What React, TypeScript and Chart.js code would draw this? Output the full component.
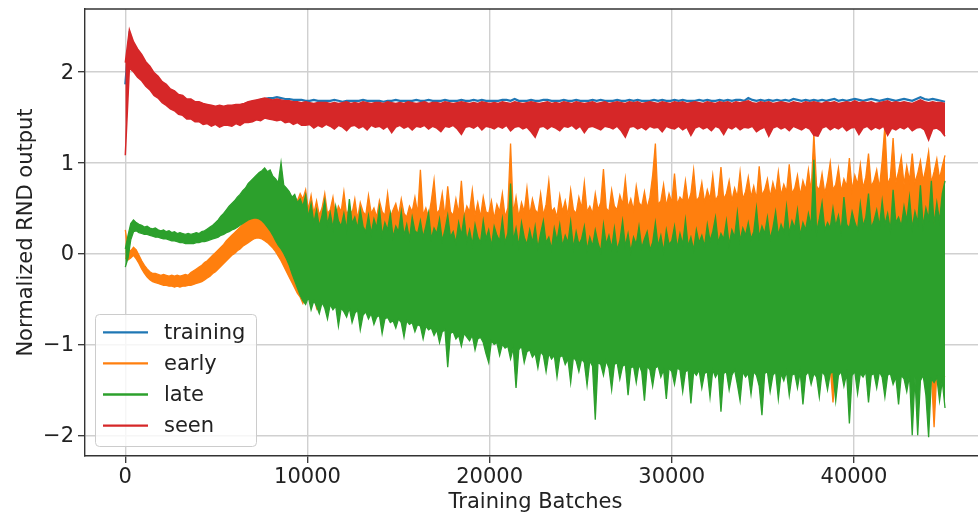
import { useEffect, useRef } from 'react';
import { Chart, registerables } from 'chart.js';

Chart.register(...registerables);

// "training" and "seen" are sampled every 225 batches, "early" and "late" every 150 batches (0 .. 45000)
const upperStep = 225;
const lowerStep = 150;

const seriesNames = ['training', 'early', 'late', 'seen'];
const seriesColors = ['#1f77b4', '#ff7f0e', '#2ca02c', '#d62728'];

const xTicks = [0, 10000, 20000, 30000, 40000];
const yTicks = [-2, -1, 0, 1, 2];

// training: top edge of its band (the rest lies under "seen")
const trainingTop = [
  1.86, 2.40, 2.29, 2.21, 2.14, 2.07, 2.01, 1.95, 1.90, 1.85,
  1.81, 1.78, 1.75, 1.72, 1.70, 1.68, 1.66, 1.65, 1.64, 1.63,
  1.62, 1.61, 1.60, 1.61, 1.60, 1.61, 1.61, 1.62, 1.63, 1.64,
  1.66, 1.67, 1.68, 1.69, 1.70, 1.71, 1.71, 1.72, 1.71, 1.70,
  1.70, 1.69, 1.69, 1.69, 1.68, 1.68, 1.69, 1.68, 1.68, 1.68,
  1.68, 1.69, 1.68, 1.67, 1.68, 1.68, 1.68, 1.68, 1.69, 1.68,
  1.68, 1.68, 1.68, 1.67, 1.68, 1.68, 1.69, 1.68, 1.68, 1.68,
  1.68, 1.69, 1.68, 1.68, 1.69, 1.68, 1.68, 1.68, 1.69, 1.68,
  1.68, 1.68, 1.69, 1.68, 1.68, 1.69, 1.68, 1.69, 1.68, 1.68,
  1.68, 1.68, 1.69, 1.69, 1.68, 1.70, 1.68, 1.68, 1.68, 1.69,
  1.68, 1.68, 1.69, 1.69, 1.68, 1.68, 1.68, 1.69, 1.68, 1.68,
  1.69, 1.68, 1.68, 1.68, 1.69, 1.68, 1.69, 1.68, 1.68, 1.68,
  1.69, 1.68, 1.68, 1.69, 1.68, 1.69, 1.68, 1.68, 1.68, 1.69,
  1.68, 1.69, 1.68, 1.68, 1.69, 1.68, 1.69, 1.68, 1.68, 1.68,
  1.69, 1.68, 1.69, 1.68, 1.68, 1.69, 1.68, 1.69, 1.68, 1.69,
  1.69, 1.68, 1.71, 1.69, 1.68, 1.69, 1.68, 1.69, 1.68, 1.69,
  1.68, 1.69, 1.68, 1.70, 1.69, 1.68, 1.69, 1.68, 1.69, 1.68,
  1.69, 1.68, 1.69, 1.70, 1.68, 1.69, 1.68, 1.69, 1.70, 1.69,
  1.68, 1.69, 1.70, 1.69, 1.68, 1.69, 1.70, 1.69, 1.68, 1.69,
  1.70, 1.69, 1.68, 1.70, 1.72, 1.70, 1.69, 1.70, 1.69, 1.68,
  1.67,
];

const seenHigh = [
  2.10, 2.46, 2.33, 2.25, 2.19, 2.11, 2.06, 1.99, 1.95, 1.89,
  1.86, 1.81, 1.79, 1.75, 1.74, 1.70, 1.70, 1.67, 1.67, 1.65,
  1.64, 1.63, 1.62, 1.63, 1.62, 1.63, 1.63, 1.64, 1.64, 1.65,
  1.67, 1.68, 1.69, 1.70, 1.71, 1.70, 1.69, 1.70, 1.69, 1.68,
  1.68, 1.67, 1.67, 1.66, 1.67, 1.66, 1.65, 1.66, 1.66, 1.66,
  1.65, 1.66, 1.65, 1.66, 1.67, 1.65, 1.66, 1.65, 1.67, 1.66,
  1.65, 1.66, 1.66, 1.65, 1.67, 1.66, 1.65, 1.66, 1.65, 1.67,
  1.66, 1.65, 1.66, 1.67, 1.65, 1.66, 1.66, 1.65, 1.67, 1.66,
  1.65, 1.66, 1.67, 1.66, 1.65, 1.66, 1.65, 1.67, 1.66, 1.65,
  1.66, 1.65, 1.67, 1.66, 1.65, 1.67, 1.66, 1.65, 1.66, 1.67,
  1.66, 1.65, 1.66, 1.67, 1.65, 1.66, 1.65, 1.67, 1.66, 1.65,
  1.67, 1.66, 1.65, 1.66, 1.67, 1.65, 1.66, 1.67, 1.65, 1.66,
  1.67, 1.66, 1.65, 1.67, 1.66, 1.67, 1.65, 1.66, 1.67, 1.66,
  1.65, 1.67, 1.66, 1.65, 1.67, 1.66, 1.67, 1.65, 1.66, 1.67,
  1.66, 1.65, 1.67, 1.66, 1.65, 1.67, 1.66, 1.67, 1.65, 1.67,
  1.66, 1.67, 1.68, 1.66, 1.65, 1.67, 1.66, 1.67, 1.65, 1.66,
  1.67, 1.66, 1.65, 1.67, 1.66, 1.65, 1.67, 1.66, 1.67, 1.66,
  1.65, 1.67, 1.66, 1.67, 1.65, 1.66, 1.67, 1.66, 1.68, 1.66,
  1.67, 1.66, 1.67, 1.65, 1.66, 1.67, 1.68, 1.66, 1.67, 1.66,
  1.67, 1.66, 1.65, 1.67, 1.69, 1.67, 1.66, 1.67, 1.66, 1.66,
  1.65,
];

const seenLow = [
  1.08, 2.04, 2.00, 1.94, 1.90, 1.84, 1.80, 1.74, 1.71, 1.66,
  1.63, 1.59, 1.57, 1.53, 1.52, 1.48, 1.48, 1.45, 1.45, 1.42,
  1.43, 1.40, 1.42, 1.39, 1.41, 1.41, 1.40, 1.43, 1.41, 1.44,
  1.44, 1.45, 1.47, 1.46, 1.49, 1.48, 1.47, 1.46, 1.47, 1.44,
  1.45, 1.42, 1.44, 1.41, 1.41, 1.42, 1.38, 1.41, 1.39, 1.42,
  1.40, 1.37, 1.41, 1.39, 1.35, 1.40, 1.41, 1.38, 1.40, 1.36,
  1.41, 1.39, 1.40, 1.37, 1.40, 1.33, 1.39, 1.41, 1.38, 1.40,
  1.36, 1.40, 1.39, 1.41, 1.37, 1.40, 1.38, 1.34, 1.40, 1.39,
  1.41, 1.37, 1.31, 1.39, 1.40, 1.38, 1.41, 1.36, 1.40, 1.39,
  1.37, 1.40, 1.38, 1.41, 1.35, 1.39, 1.40, 1.37, 1.39, 1.34,
  1.28, 1.39, 1.40, 1.37, 1.40, 1.38, 1.35, 1.40, 1.39, 1.41,
  1.37, 1.40, 1.33, 1.39, 1.40, 1.38, 1.36, 1.40, 1.39, 1.37,
  1.40, 1.35, 1.28, 1.39, 1.40, 1.37, 1.39, 1.36, 1.40, 1.38,
  1.39, 1.34, 1.40, 1.38, 1.37, 1.40, 1.36, 1.39, 1.30, 1.38,
  1.40, 1.37, 1.39, 1.35, 1.40, 1.38, 1.31, 1.39, 1.37, 1.40,
  1.36, 1.39, 1.38, 1.40, 1.34, 1.37, 1.39, 1.29, 1.38, 1.40,
  1.37, 1.39, 1.35, 1.40, 1.38, 1.36, 1.39, 1.37, 1.30, 1.29,
  1.38, 1.40, 1.36, 1.39, 1.37, 1.40, 1.35, 1.38, 1.39, 1.31,
  1.38, 1.40, 1.36, 1.39, 1.37, 1.40, 1.30, 1.38, 1.36, 1.39,
  1.37, 1.40, 1.35, 1.38, 1.39, 1.36, 1.25, 1.37, 1.38, 1.35,
  1.29,
];

const earlyHigh = [
  0.26, 0.05, 0.03, 0.07, 0.04, -0.02, -0.08, -0.13, -0.17, -0.20,
  -0.22, -0.22, -0.23, -0.24, -0.23, -0.24, -0.25, -0.24, -0.25, -0.24,
  -0.25, -0.24, -0.23, -0.24, -0.21, -0.19, -0.17, -0.15, -0.13, -0.10,
  -0.08, -0.05, -0.02, 0.01, 0.04, 0.07, 0.10, 0.14, 0.17, 0.20,
  0.23, 0.26, 0.29, 0.32, 0.35, 0.37, 0.40, 0.42, 0.44, 0.45,
  0.46, 0.44, 0.43, 0.41, 0.40, 0.38, 0.40, 0.39, 0.42, 0.48,
  0.55, 0.50, 0.62, 0.58, 0.66, 0.60, 0.70, 0.48, 0.64, 0.44,
  0.58, 0.42, 0.50, 0.66, 0.44, 0.48, 0.62, 0.40, 0.52, 0.46,
  0.68, 0.42, 0.50, 0.44, 0.60, 0.38, 0.56, 0.46, 0.42, 0.64,
  0.44, 0.50, 0.40, 0.58, 0.46, 0.42, 0.66, 0.40, 0.48, 0.55,
  0.42, 0.60, 0.44, 0.40, 0.52, 0.46, 0.62, 0.44, 0.92, 0.42,
  0.50, 0.40, 0.58, 0.81, 0.44, 0.48, 0.66, 0.40, 0.74, 0.46,
  0.42, 0.60, 0.44, 0.80, 0.40, 0.52, 0.46, 0.70, 0.42, 0.56,
  0.40, 0.62, 0.46, 0.44, 0.58, 0.38, 0.54, 0.46, 0.66, 0.40,
  0.50, 1.21, 0.44, 0.62, 0.40, 0.56, 0.46, 0.72, 0.42, 0.60,
  0.48, 0.44, 0.66, 0.42, 0.54, 0.80, 0.46, 0.50, 0.40, 0.64,
  0.46, 0.58, 0.42, 0.70, 0.48, 0.44, 0.62, 0.50, 0.78, 0.46,
  0.52, 0.44, 0.66, 0.48, 0.56, 0.93, 0.50, 0.46, 0.70, 0.52,
  0.48, 0.64, 0.54, 0.82, 0.50, 0.60, 0.48, 0.74, 0.56, 0.52,
  0.68, 0.50, 0.62, 0.86, 1.21, 0.54, 0.58, 0.76, 0.52, 0.66,
  0.56, 0.88, 0.54, 0.62, 0.58, 0.80, 0.56, 0.66, 0.92, 0.58,
  0.62, 0.78, 0.56, 0.70, 0.60, 0.86, 0.58, 0.64, 0.95, 0.60,
  0.66, 0.80, 0.58, 0.72, 0.62, 0.90, 0.60, 0.68, 0.84, 0.62,
  0.74, 0.60, 0.96, 0.64, 0.70, 0.82, 0.62, 0.78, 0.66, 0.90,
  0.64, 0.76, 0.68, 0.98, 0.66, 0.72, 0.86, 0.64, 0.80, 0.70,
  0.92, 0.68, 1.32, 0.74, 0.70, 0.88, 0.66, 0.80, 1.00, 0.70,
  0.76, 0.94, 0.68, 0.82, 0.74, 1.05, 0.70, 0.86, 0.76, 0.98,
  0.72, 0.84, 1.10, 0.74, 0.80, 0.92, 0.72, 1.02, 1.41, 0.76,
  0.84, 1.27, 0.78, 0.90, 1.06, 0.76, 0.96, 0.80, 1.10, 0.78,
  0.88, 1.02, 0.80, 0.94, 1.12, 0.78, 0.90, 1.04, 0.82, 0.96,
  1.08,
];

const earlyLow = [
  -0.05, -0.07, -0.05, -0.02, -0.06, -0.11, -0.17, -0.22, -0.26, -0.29,
  -0.31, -0.32, -0.33, -0.34, -0.35, -0.35, -0.36, -0.36, -0.37, -0.36,
  -0.37, -0.36, -0.36, -0.35, -0.35, -0.34, -0.33, -0.32, -0.31, -0.29,
  -0.27, -0.25, -0.22, -0.20, -0.17, -0.14, -0.11, -0.08, -0.05, -0.02,
  0.00, 0.03, 0.05, 0.08, 0.10, 0.12, 0.14, 0.16, 0.17, 0.17,
  0.16, 0.14, 0.12, 0.09, 0.06, 0.02, -0.03, -0.08, -0.14, -0.20,
  -0.26, -0.32, -0.38, -0.44, -0.48, -0.55, -0.46, -0.44, -0.50, -0.46,
  -0.60, -0.48, -0.50, -0.52, -0.50, -0.52, -0.54, -0.52, -0.55, -0.54,
  -0.56, -0.55, -0.56, -0.58, -0.57, -0.56, -0.60, -0.60, -0.58, -0.62,
  -0.60, -0.62, -0.64, -0.62, -0.64, -0.66, -0.64, -0.66, -0.68, -0.66,
  -0.66, -0.68, -0.70, -0.68, -0.70, -0.70, -0.72, -0.72, -0.72, -0.74,
  -0.74, -0.76, -0.76, -0.78, -0.78, -0.80, -0.80, -0.78, -0.82, -0.82,
  -0.80, -0.84, -0.84, -0.86, -0.82, -0.86, -0.88, -0.84, -0.88, -0.88,
  -0.86, -0.90, -0.92, -0.92, -0.90, -0.92, -0.92, -0.94, -0.94, -0.96,
  -0.96, -0.98, -0.98, -1.00, -1.00, -0.96, -1.02, -1.02, -1.00, -1.04,
  -1.04, -1.04, -1.02, -1.06, -1.06, -1.04, -1.08, -1.06, -1.08, -1.08,
  -1.06, -1.10, -1.10, -1.12, -1.08, -1.12, -1.12, -1.10, -1.14, -1.14,
  -1.12, -1.16, -1.16, -1.14, -1.16, -1.18, -1.12, -1.18, -1.18, -1.16,
  -1.14, -1.20, -1.18, -1.16, -1.20, -1.20, -1.18, -1.22, -1.16, -1.22,
  -1.22, -1.18, -1.22, -1.24, -1.20, -1.18, -1.24, -1.22, -1.24, -1.20,
  -1.24, -1.26, -1.20, -1.22, -1.26, -1.24, -1.22, -1.26, -1.24, -1.26,
  -1.22, -1.26, -1.26, -1.24, -1.28, -1.22, -1.28, -1.24, -1.28, -1.26,
  -1.24, -1.28, -1.28, -1.22, -1.28, -1.30, -1.24, -1.28, -1.26, -1.30,
  -1.24, -1.28, -1.30, -1.30, -1.26, -1.24, -1.30, -1.28, -1.24, -1.30,
  -1.26, -1.30, -1.24, -1.30, -1.28, -1.26, -1.30, -1.24, -1.30, -1.28,
  -1.24, -1.30, -1.26, -1.30, -1.32, -1.24, -1.28, -1.32, -1.26, -1.64,
  -1.30, -1.28, -1.24, -1.32, -1.26, -1.32, -1.28, -1.24, -1.32, -1.26,
  -1.30, -1.24, -1.34, -1.28, -1.26, -1.32, -1.24, -1.30, -1.34, -1.28,
  -1.26, -1.32, -1.30, -1.36, -1.28, -1.32, -1.34, -1.28, -1.40, -1.30,
  -1.40, -1.34, -1.28, -1.36, -1.40, -1.32, -1.91, -1.30, -1.36, -1.34,
  -1.36,
];

const lateHigh = [
  0.05, 0.20, 0.33, 0.37, 0.34, 0.32, 0.31, 0.29, 0.30, 0.28,
  0.27, 0.28, 0.26, 0.25, 0.26, 0.24, 0.25, 0.23, 0.24, 0.22,
  0.23, 0.22, 0.21, 0.22, 0.21, 0.22, 0.23, 0.22, 0.24, 0.25,
  0.27, 0.29, 0.31, 0.34, 0.37, 0.41, 0.44, 0.48, 0.52, 0.55,
  0.58, 0.62, 0.65, 0.69, 0.72, 0.77, 0.80, 0.83, 0.86, 0.89,
  0.91, 0.94, 0.90, 0.92, 0.85, 0.82, 0.78, 1.00, 0.75, 0.72,
  0.68, 0.62, 0.65, 0.56, 0.60, 0.52, 0.64, 0.40, 0.55, 0.34,
  0.48, 0.30, 0.42, 0.58, 0.32, 0.45, 0.28, 0.52, 0.36, 0.30,
  0.44, 0.26, 0.60, 0.33, 0.40, 0.28, 0.48, 0.30, 0.24, 0.42,
  0.22, 0.38, 0.28, 0.50, 0.20, 0.34, 0.26, 0.44, 0.18, 0.30,
  0.24, 0.46, 0.20, 0.32, 0.16, 0.40, 0.25, 0.22, 0.36, 0.18,
  0.30, 0.45, 0.16, 0.28, 0.22, 0.38, 0.14, 0.26, 0.42, 0.18,
  0.24, 0.12, 0.34, 0.20, 0.40, 0.14, 0.26, 0.10, 0.32, 0.18,
  0.12, 0.36, 0.16, 0.26, 0.08, 0.30, 0.20, 0.14, 0.38, 0.12,
  0.22, 0.77, 0.14, 0.28, 0.08, 0.34, 0.18, 0.10, 0.26, 0.12,
  0.30, 0.06, 0.22, 0.36, 0.12, 0.18, 0.05, 0.28, 0.14, 0.32,
  0.08, 0.20, 0.12, 0.35, 0.06, 0.24, 0.10, 0.16, 0.30, 0.04,
  0.18, 0.08, 0.26, 0.12, 0.02, 0.32, 0.10, 0.20, 0.06, 0.28,
  0.04, 0.14, 0.36, 0.08, 0.22, 0.02, 0.18, 0.10, 0.30, 0.06,
  0.16, 0.24, 0.04, 0.12, 0.34, 0.08, 0.20, 0.02, 0.26, 0.10,
  0.14, 0.30, 0.06, 0.22, 0.10, 0.37, 0.08, 0.18, 0.04, 0.26,
  0.12, 0.20, 0.08, 0.32, 0.14, 0.24, 0.40, 0.12, 0.22, 0.16,
  0.36, 0.10, 0.26, 0.18, 0.45, 0.14, 0.28, 0.20, 0.34, 0.16,
  0.24, 0.50, 0.18, 0.30, 0.22, 0.40, 0.16, 0.28, 0.46, 0.20,
  0.32, 0.24, 0.52, 0.22, 0.36, 0.28, 0.48, 0.20, 0.34, 0.26,
  0.44, 0.30, 1.03, 0.24, 0.38, 0.56, 0.26, 0.34, 0.28, 0.50,
  0.30, 0.42, 0.24, 0.62, 0.32, 0.28, 0.46, 0.34, 0.26, 0.55,
  0.30, 0.40, 0.66, 0.28, 0.36, 0.48, 0.30, 0.58, 0.32, 0.44,
  0.26, 0.70, 0.34, 0.40, 0.30, 0.52, 0.36, 0.62, 0.28, 0.46,
  0.34, 0.75, 0.30, 0.50, 0.38, 0.80, 0.32, 0.56, 0.36, 0.66,
  0.80,
];

const lateLow = [
  -0.15, -0.05, 0.15, 0.24, 0.25, 0.23, 0.22, 0.21, 0.21, 0.20,
  0.19, 0.18, 0.18, 0.17, 0.16, 0.16, 0.15, 0.14, 0.14, 0.13,
  0.12, 0.12, 0.11, 0.11, 0.11, 0.11, 0.12, 0.12, 0.13, 0.13,
  0.14, 0.15, 0.16, 0.17, 0.18, 0.20, 0.21, 0.23, 0.24, 0.26,
  0.27, 0.29, 0.31, 0.33, 0.35, 0.37, 0.38, 0.39, 0.39, 0.38,
  0.36, 0.33, 0.29, 0.25, 0.20, 0.14, 0.09, 0.05, 0.00, -0.06,
  -0.13, -0.22, -0.30, -0.38, -0.46, -0.52, -0.56, -0.48, -0.62, -0.52,
  -0.58, -0.66, -0.54, -0.60, -0.72, -0.56, -0.62, -0.58, -0.80, -0.60,
  -0.64, -0.70, -0.60, -0.76, -0.66, -0.62, -0.84, -0.68, -0.64, -0.72,
  -0.66, -0.78, -0.70, -0.68, -0.88, -0.72, -0.70, -0.76, -0.74, -0.82,
  -0.72, -0.76, -0.92, -0.74, -0.78, -0.76, -0.86, -0.78, -0.80, -0.94,
  -0.80, -0.84, -0.82, -0.90, -0.84, -0.98, -0.86, -0.84, -1.25, -0.88,
  -0.86, -0.94, -0.90, -1.02, -0.88, -0.92, -0.96, -0.90, -1.06, -0.94,
  -0.92, -0.98, -1.10, -1.20, -0.96, -1.00, -0.98, -1.12, -1.00, -1.04,
  -1.02, -1.16, -1.04, -1.48, -1.06, -1.02, -1.20, -1.08, -1.06, -1.14,
  -1.10, -1.26, -1.08, -1.12, -1.30, -1.10, -1.16, -1.12, -1.36, -1.14,
  -1.12, -1.22, -1.16, -1.42, -1.14, -1.18, -1.30, -1.16, -1.20, -1.45,
  -1.18, -1.24, -1.83, -1.20, -1.22, -1.34, -1.18, -1.26, -1.50, -1.22,
  -1.20, -1.38, -1.24, -1.22, -1.56, -1.26, -1.24, -1.42, -1.22, -1.30,
  -1.62, -1.24, -1.28, -1.46, -1.26, -1.24, -1.36, -1.28, -1.60, -1.26,
  -1.30, -1.44, -1.26, -1.28, -1.52, -1.30, -1.28, -1.65, -1.30, -1.34,
  -1.28, -1.48, -1.32, -1.30, -1.58, -1.28, -1.36, -1.30, -1.74, -1.32,
  -1.30, -1.50, -1.34, -1.28, -1.44, -1.62, -1.30, -1.36, -1.32, -1.55,
  -1.30, -1.34, -1.46, -1.78, -1.32, -1.30, -1.52, -1.34, -1.30, -1.60,
  -1.32, -1.40, -1.30, -1.56, -1.34, -1.32, -1.48, -1.30, -1.66, -1.34,
  -1.30, -1.44, -1.32, -1.36, -1.58, -1.30, -1.34, -1.50, -1.32, -1.30,
  -1.62, -1.34, -1.30, -1.46, -1.32, -1.87, -1.34, -1.30, -1.54, -1.32,
  -1.36, -1.30, -1.64, -1.34, -1.32, -1.48, -1.30, -1.36, -1.58, -1.34,
  -1.32, -1.44, -1.36, -1.66, -1.34, -1.38, -1.52, -1.34, -2.00, -1.36,
  -2.00, -1.40, -1.34, -1.56, -2.02, -1.38, -1.42, -1.36, -1.62, -1.40,
  -1.70,
];

const FONT = '"DejaVu Sans", "Liberation Sans", sans-serif';

const topSpinePlugin = {
  id: 'topSpine',
  afterDatasetsDraw(chart: any) {
    const { ctx, chartArea: a } = chart;
    ctx.save();
    ctx.strokeStyle = '#333333';
    ctx.lineWidth = 1.4;
    ctx.beginPath();
    ctx.moveTo(a.left, a.top);
    ctx.lineTo(a.right, a.top);
    ctx.stroke();
    ctx.restore();
  },
};

const legendPlugin = {
  id: 'boxLegend',
  afterDraw(chart: any) {
    const ctx = chart.ctx;
    ctx.save();
    ctx.beginPath();
    ctx.roundRect(95.5, 314.5, 161, 132, 4);
    ctx.fillStyle = 'rgba(255,255,255,0.8)';
    ctx.fill();
    ctx.strokeStyle = '#cccccc';
    ctx.lineWidth = 1;
    ctx.stroke();
    ctx.font = '21px ' + FONT;
    ctx.textBaseline = 'middle';
    ctx.textAlign = 'left';
    seriesNames.forEach((name, k) => {
      const y = 332.3 + k * 31.1;
      ctx.strokeStyle = seriesColors[k];
      ctx.lineWidth = 2.3;
      ctx.beginPath();
      ctx.moveTo(103, y);
      ctx.lineTo(148, y);
      ctx.stroke();
      ctx.fillStyle = '#222222';
      ctx.fillText(name, 164, y + 1);
    });
    ctx.restore();
  },
};

function points(values: number[], step: number) {
  return values.map((y, i) => ({ x: i * step, y }));
}

function band(values: number[], step: number, color: string, order: number, fill: any, width: number) {
  return {
    data: points(values, step),
    borderColor: color,
    backgroundColor: color,
    borderWidth: width,
    pointRadius: 0,
    pointHoverRadius: 0,
    tension: 0,
    fill,
    order,
  };
}

export default function App() {
  const ref = useRef<HTMLCanvasElement>(null);

  useEffect(() => {
    const canvas = ref.current;
    if (!canvas) return;
    const chart = new Chart(canvas, {
      type: 'line',
      data: {
        datasets: [
          band(trainingTop, upperStep, seriesColors[0], 4, false, 2.2),
          band(earlyHigh, lowerStep, seriesColors[1], 3, false, 1.3),
          band(earlyLow, lowerStep, seriesColors[1], 3, 1, 1.3),
          band(lateHigh, lowerStep, seriesColors[2], 2, false, 1.3),
          band(lateLow, lowerStep, seriesColors[2], 2, 3, 1.3),
          band(seenHigh, upperStep, seriesColors[3], 1, false, 1.5),
          band(seenLow, upperStep, seriesColors[3], 1, 5, 1.5),
        ] as any,
      },
      options: {
        animation: false,
        responsive: false,
        devicePixelRatio: 1,
        events: [],
        layout: { padding: { left: 0, top: 9, right: 34, bottom: 0 } },
        plugins: {
          legend: { display: false },
          tooltip: { enabled: false },
        },
        scales: {
          x: {
            type: 'linear',
            min: -2212,
            max: 47250,
            afterBuildTicks: (s: any) => {
              s.ticks = xTicks.map((v) => ({ value: v }));
            },
            afterFit: (s: any) => {
              s.height = 57;
              s.paddingLeft = 0;
              s.paddingRight = 0;
            },
            ticks: {
              font: { family: FONT, size: 21 },
              color: '#222222',
              padding: 2,
              maxRotation: 0,
              autoSkip: false,
              callback: (v: any) => String(v),
            },
            grid: {
              color: '#d0d0d0',
              lineWidth: 1.4,
              tickColor: '#333333',
              tickLength: 7,
              tickWidth: 1.3,
            },
            border: { color: '#333333', width: 1.4, z: 1 },
            title: {
              display: true,
              text: 'Training Batches',
              color: '#222222',
              font: { family: FONT, size: 21, lineHeight: 1 },
              padding: { top: 0, bottom: 0 },
            },
          },
          y: {
            type: 'linear',
            min: -2.228,
            max: 2.69,
            afterBuildTicks: (s: any) => {
              s.ticks = yTicks.map((v) => ({ value: v }));
            },
            afterFit: (s: any) => {
              s.width = 85;
              s.paddingTop = 0;
              s.paddingBottom = 0;
            },
            ticks: {
              font: { family: FONT, size: 21 },
              color: '#222222',
              padding: 4,
              labelOffset: 1.5,
              autoSkip: false,
              callback: (v: any) => (v < 0 ? '\u2212' + Math.abs(v) : String(v)),
            },
            grid: {
              color: '#d0d0d0',
              lineWidth: 1.4,
              tickColor: '#333333',
              tickLength: 7,
              tickWidth: 1.3,
            },
            border: { color: '#333333', width: 1.4, z: 1 },
            title: {
              display: true,
              text: 'Normalized RND output',
              color: '#222222',
              font: { family: FONT, size: 21, lineHeight: 1 },
              padding: { top: 16, bottom: 0 },
            },
          },
        },
      } as any,
      plugins: [topSpinePlugin, legendPlugin],
    });
    return () => chart.destroy();
  }, []);

  return (
    <div
      style={{
        position: 'fixed',
        left: 0,
        top: 0,
        width: 978,
        height: 513,
        overflow: 'hidden',
        background: '#ffffff',
      }}
    >
      <canvas ref={ref} width={1020} height={513} style={{ display: 'block' }} />
    </div>
  );
}
